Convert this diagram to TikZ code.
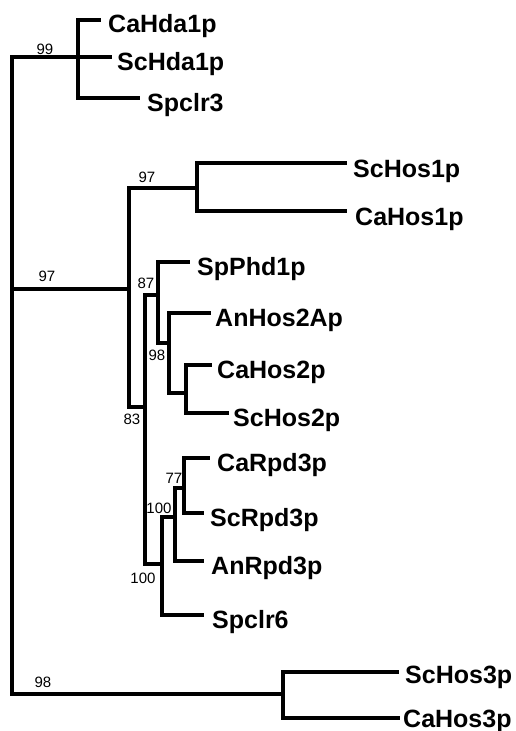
\documentclass[tikz,border=0pt]{standalone}
\usepackage{fontspec}
\setmainfont{Liberation Sans}
\begin{document}
\begin{tikzpicture}[x=1pt,y=-1pt,
  branch/.style={line width=3.3pt, line cap=rect, line join=miter},
  taxon/.style={font=\fontsize{25}{25}\selectfont\bfseries, anchor=base west, inner sep=0pt},
  support/.style={font=\fontsize{15}{15}\selectfont, inner sep=0pt}]
\useasboundingbox (0,0) rectangle (515,731);

% root and internal nodes
\coordinate (R)  at (12,0);
\coordinate (nA) at (78,57);
\coordinate (nB) at (129,289);
\coordinate (nC) at (197,188);
\coordinate (nD) at (145,407);
\coordinate (nE) at (158,295);
\coordinate (nF) at (169,343);
\coordinate (nG) at (186,393);
\coordinate (nH) at (162,564);
\coordinate (nI) at (175,517);
\coordinate (nJ) at (184,488);
\coordinate (nK) at (283,694);

% tips of terminal branches
\coordinate (cahda)   at (99,20);
\coordinate (schda)   at (110,57);
\coordinate (spclr3)  at (138,98);
\coordinate (schos1)  at (345,163);
\coordinate (cahos1)  at (345,211);
\coordinate (spphd1)  at (188,262);
\coordinate (anhos2a) at (209,313);
\coordinate (cahos2)  at (210,365);
\coordinate (schos2)  at (227,413);
\coordinate (carpd3)  at (208,458);
\coordinate (scrpd3)  at (202,513);
\coordinate (anrpd3)  at (202,561);
\coordinate (spclr6)  at (202,615);
\coordinate (schos3)  at (397,672);
\coordinate (cahos3)  at (398,718);

% taxon names
\node[taxon] (tcahda)   at (108,32)  {CaHda1p};
\node[taxon] (tschda)   at (117,70)  {ScHda1p};
\node[taxon] (tspclr3)  at (147,111) {Spclr3};
\node[taxon] (tschos1)  at (353,177) {ScHos1p};
\node[taxon] (tcahos1)  at (355,225) {CaHos1p};
\node[taxon] (tspphd1)  at (197,275) {SpPhd1p};
\node[taxon] (tanhos2a) at (215,326) {AnHos2Ap};
\node[taxon] (tcahos2)  at (217,378) {CaHos2p};
\node[taxon] (tschos2)  at (233,426) {ScHos2p};
\node[taxon] (tcarpd3)  at (217,471) {CaRpd3p};
\node[taxon] (tscrpd3)  at (210,526) {ScRpd3p};
\node[taxon] (tanrpd3)  at (211,574) {AnRpd3p};
\node[taxon] (tspclr6)  at (212,628) {Spclr6};
\node[taxon] (tschos3)  at (405,683) {ScHos3p};
\node[taxon] (tcahos3)  at (403,727) {CaHos3p};

% bootstrap values
\node[support] (b1)  at (45,49)   {99};
\node[support] (b2)  at (147,177) {97};
\node[support] (b3)  at (47,276)  {97};
\node[support] (b4)  at (146,283) {87};
\node[support] (b5)  at (157,355) {98};
\node[support] (b6)  at (132,419) {83};
\node[support] (b7)  at (174,478) {77};
\node[support] (b8)  at (159,508) {100};
\node[support] (b9)  at (143,578) {100};
\node[support] (b10) at (43,682)  {98};

% branches
\draw[branch] (R |- nA) -- (R |- nK);
\draw[branch] (R |- nA) -- (nA);
\draw[branch] (R |- nB) -- (nB);
\draw[branch] (R |- nK) -- (nK);

\draw[branch] (nA |- cahda) -- (nA |- spclr3);
\draw[branch] (nA |- cahda) -- (cahda);
\draw[branch] (nA) -- (schda);
\draw[branch] (nA |- spclr3) -- (spclr3);

\draw[branch] (nB |- nC) -- (nB |- nD);
\draw[branch] (nB |- nC) -- (nC);
\draw[branch] (nB |- nD) -- (nD);

\draw[branch] (nC |- schos1) -- (nC |- cahos1);
\draw[branch] (nC |- schos1) -- (schos1);
\draw[branch] (nC |- cahos1) -- (cahos1);

\draw[branch] (nD |- nE) -- (nD |- nH);
\draw[branch] (nD |- nE) -- (nE);
\draw[branch] (nD |- nH) -- (nH);

\draw[branch] (nE |- spphd1) -- (nE |- nF);
\draw[branch] (nE |- spphd1) -- (spphd1);
\draw[branch] (nE |- nF) -- (nF);

\draw[branch] (nF |- anhos2a) -- (nF |- nG);
\draw[branch] (nF |- anhos2a) -- (anhos2a);
\draw[branch] (nF |- nG) -- (nG);

\draw[branch] (nG |- cahos2) -- (nG |- schos2);
\draw[branch] (nG |- cahos2) -- (cahos2);
\draw[branch] (nG |- schos2) -- (schos2);

\draw[branch] (nH |- nI) -- (nH |- spclr6);
\draw[branch] (nH |- nI) -- (nI);
\draw[branch] (nH |- spclr6) -- (spclr6);

\draw[branch] (nI |- nJ) -- (nI |- anrpd3);
\draw[branch] (nI |- nJ) -- (nJ);
\draw[branch] (nI |- anrpd3) -- (anrpd3);

\draw[branch] (nJ |- carpd3) -- (nJ |- scrpd3);
\draw[branch] (nJ |- carpd3) -- (carpd3);
\draw[branch] (nJ |- scrpd3) -- (scrpd3);

\draw[branch] (nK |- schos3) -- (nK |- cahos3);
\draw[branch] (nK |- schos3) -- (schos3);
\draw[branch] (nK |- cahos3) -- (cahos3);
\end{tikzpicture}
\end{document}
